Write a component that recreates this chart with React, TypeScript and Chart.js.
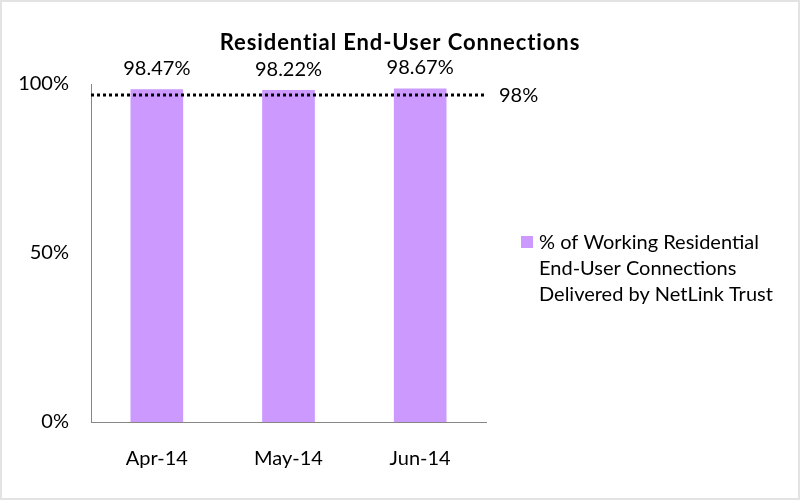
import React, { useEffect, useRef } from "react";
import { Chart, registerables } from "chart.js";

Chart.register(...registerables);

const categories = ["Apr-14", "May-14", "Jun-14"];
const deliveredPct = [98.47, 98.22, 98.67];
const targetPct = 98;
const yTicks = [0, 50, 100];
const seriesLabel = "% of Working Residential End-User Connections Delivered by NetLink Trust";
const legendLines = ["% of Working Residential", "End-User Connections", "Delivered by NetLink Trust"];
const titleText = "Residential End-User Connections";

const FONT = "Lato, 'Open Sans', sans-serif";
const BAR_COLOR = "#CC99FF";
const AXIS_COLOR = "#868686";

export default function App() {
  const ref = useRef<HTMLCanvasElement | null>(null);

  useEffect(() => {
    document.body.style.margin = "0";
    const canvas = ref.current;
    if (!canvas) return;

    const overlay = {
      id: "overlay",
      afterDatasetsDraw(chart: any) {
        const ctx = chart.ctx;
        const area = chart.chartArea;
        ctx.save();
        // data labels
        const meta = chart.getDatasetMeta(0);
        ctx.fillStyle = "#000";
        ctx.font = `20px ${FONT}`;
        ctx.textAlign = "center";
        ctx.textBaseline = "alphabetic";
        meta.data.forEach((bar: any, i: number) => {
          ctx.fillText(deliveredPct[i].toFixed(2) + "%", bar.x, bar.y - 14);
        });
        // target label
        const lineMeta = chart.getDatasetMeta(1);
        const last = lineMeta.data[lineMeta.data.length - 1];
        ctx.textAlign = "left";
        ctx.textBaseline = "middle";
        ctx.fillText(targetPct + "%", last.x + 13, last.y + 1);
        // title
        ctx.font = `bold 22px ${FONT}`;
        (ctx as any).letterSpacing = "0.9px";
        ctx.textAlign = "center";
        ctx.textBaseline = "alphabetic";
        ctx.fillText(titleText, 400, 50);
        (ctx as any).letterSpacing = "0px";
        // legend
        const lx = area.right + 35;
        const ly = 242;
        ctx.fillStyle = BAR_COLOR;
        ctx.fillRect(lx, ly - 6, 12, 12);
        ctx.fillStyle = "#000";
        ctx.font = `20px ${FONT}`;
        ctx.textAlign = "left";
        ctx.textBaseline = "middle";
        legendLines.forEach((t, i) => {
          ctx.fillText(t, lx + 18, ly + 1 + i * 26);
        });
        ctx.restore();
      },
    };

    const chart = new Chart(canvas, {
      type: "bar",
      data: {
        labels: categories,
        datasets: [
          {
            type: "bar",
            label: seriesLabel,
            data: deliveredPct,
            backgroundColor: BAR_COLOR,
            barPercentage: 0.4,
            categoryPercentage: 1,
            grouped: false,
            order: 2,
            xAxisID: "x",
            yAxisID: "y",
          } as any,
          {
            type: "line",
            label: "Target",
            data: [
              { x: 0, y: targetPct },
              { x: categories.length, y: targetPct },
            ],
            borderColor: "#000",
            borderWidth: 3,
            borderDash: [3, 3],
            borderCapStyle: "butt",
            pointRadius: 0,
            fill: false,
            order: 1,
            xAxisID: "x2",
            yAxisID: "y2",
          } as any,
        ],
      },
      plugins: [overlay],
      options: {
        animation: false,
        responsive: false,
        layout: { padding: { left: 0, right: 314, top: 84, bottom: 0 } },
        plugins: {
          legend: { display: false },
          title: { display: false },
          tooltip: { enabled: false },
        },
        scales: {
          x: {
            type: "category",
            grid: { display: false },
            border: { display: true, color: AXIS_COLOR, width: 1 },
            ticks: { color: "#000", font: { family: FONT, size: 20 }, padding: 17 },
            afterFit: (s: any) => {
              s.height = 78;
            },
          },
          y: {
            min: 0,
            max: 100,
            afterBuildTicks: (s: any) => {
              s.ticks = yTicks.map((v) => ({ value: v }));
            },
            grid: { display: false },
            border: { display: true, color: AXIS_COLOR, width: 1 },
            ticks: {
              color: "#000",
              font: { family: FONT, size: 20 },
              padding: 14,
              callback: (v: any) => v + "%",
            },
            afterFit: (s: any) => {
              s.width = 91;
            },
          },
          x2: {
            type: "linear",
            min: 0,
            max: categories.length,
            offset: false,
            display: false,
            grid: { offset: false },
          },
          y2: { type: "linear", min: 0, max: 101.3, display: false },
        },
      } as any,
    });

    return () => chart.destroy();
  }, []);

  return (
    <div style={{ position: "fixed", left: 0, top: 0, width: 800, height: 500, background: "#fff" }}>
      <canvas ref={ref} width={800} height={500} style={{ width: 800, height: 500, display: "block" }} />
      <div
        style={{
          position: "absolute",
          inset: 0,
          border: "2px solid #e3e3e3",
          boxSizing: "border-box",
          pointerEvents: "none",
        }}
      />
    </div>
  );
}
